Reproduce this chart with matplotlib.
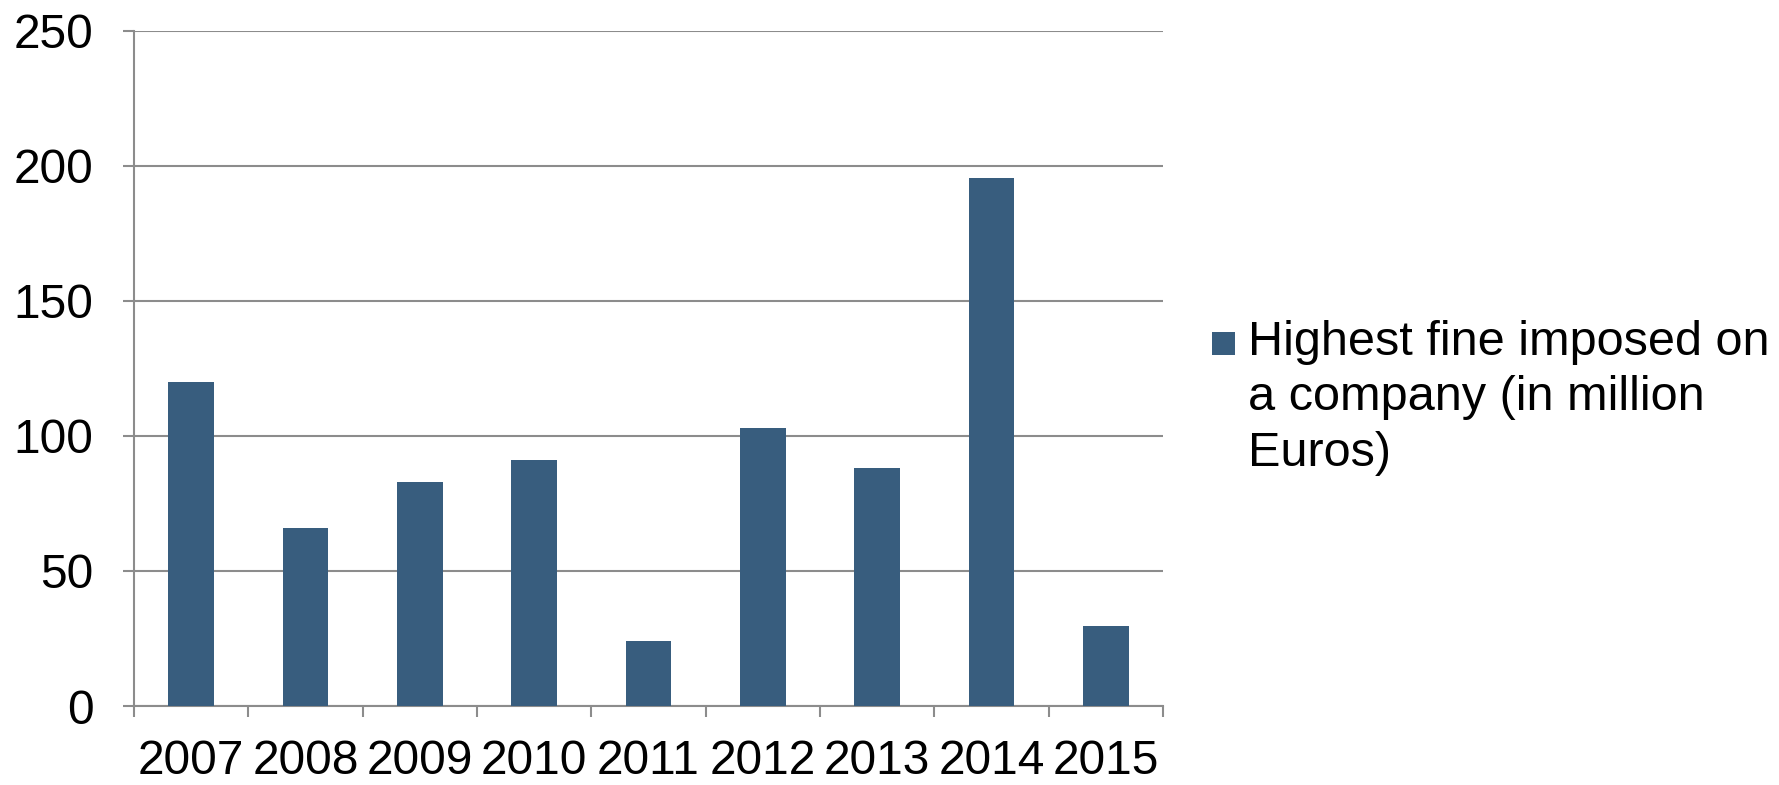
import numpy as np
import matplotlib.pyplot as plt
from matplotlib.patches import Rectangle
from matplotlib.ticker import FixedLocator

plt.rcParams['font.family'] = ['Liberation Sans', 'DejaVu Sans']

years = ['2007', '2008', '2009', '2010', '2011', '2012', '2013', '2014', '2015']
fines = [120, 66, 83, 91, 24, 103, 88, 195.5, 29.5]
series_name = 'Highest fine imposed on\na company (in million\nEuros)'

bar_color = '#385d7e'
line_color = '#8c8c8c'

fig = plt.figure(figsize=(17.79, 7.85), dpi=100)
ax = fig.add_axes([0.0753, 0.1006, 0.5784, 0.8604])

x = np.arange(len(years))
ax.bar(x, fines, width=0.4, color=bar_color, zorder=3)

ax.set_xlim(-0.5, len(years) - 0.5)
ax.set_ylim(0, 250)
ax.set_yticks([0, 50, 100, 150, 200, 250])
ax.set_xticks(x)
ax.set_xticklabels(years)
ax.xaxis.set_minor_locator(FixedLocator(np.arange(len(years) + 1) - 0.5))

ax.grid(axis='y', color=line_color, linewidth=1.5, zorder=0)
for side in ['top', 'right']:
    ax.spines[side].set_visible(False)
for side in ['left', 'bottom']:
    ax.spines[side].set_color(line_color)
    ax.spines[side].set_linewidth(1.5)

ax.tick_params(axis='y', which='major', length=8, width=1.5, color=line_color,
               labelsize=34.5, pad=21)
ax.tick_params(axis='x', which='major', length=0, labelsize=34.5, pad=24)
ax.tick_params(axis='x', which='minor', length=8, width=1.5, color=line_color)

# legend: square key lined up with the first line of the wrapped label
fig.patches.append(Rectangle((1212 / 1779, 1 - 355 / 785), 23 / 1779, 23 / 785,
                             transform=fig.transFigure, facecolor=bar_color,
                             edgecolor='none'))
fig.text(1248 / 1779, 1 - 320 / 785, series_name, fontsize=35,
         linespacing=1.3, ha='left', va='top')

fig.savefig('out.png', dpi=100)
